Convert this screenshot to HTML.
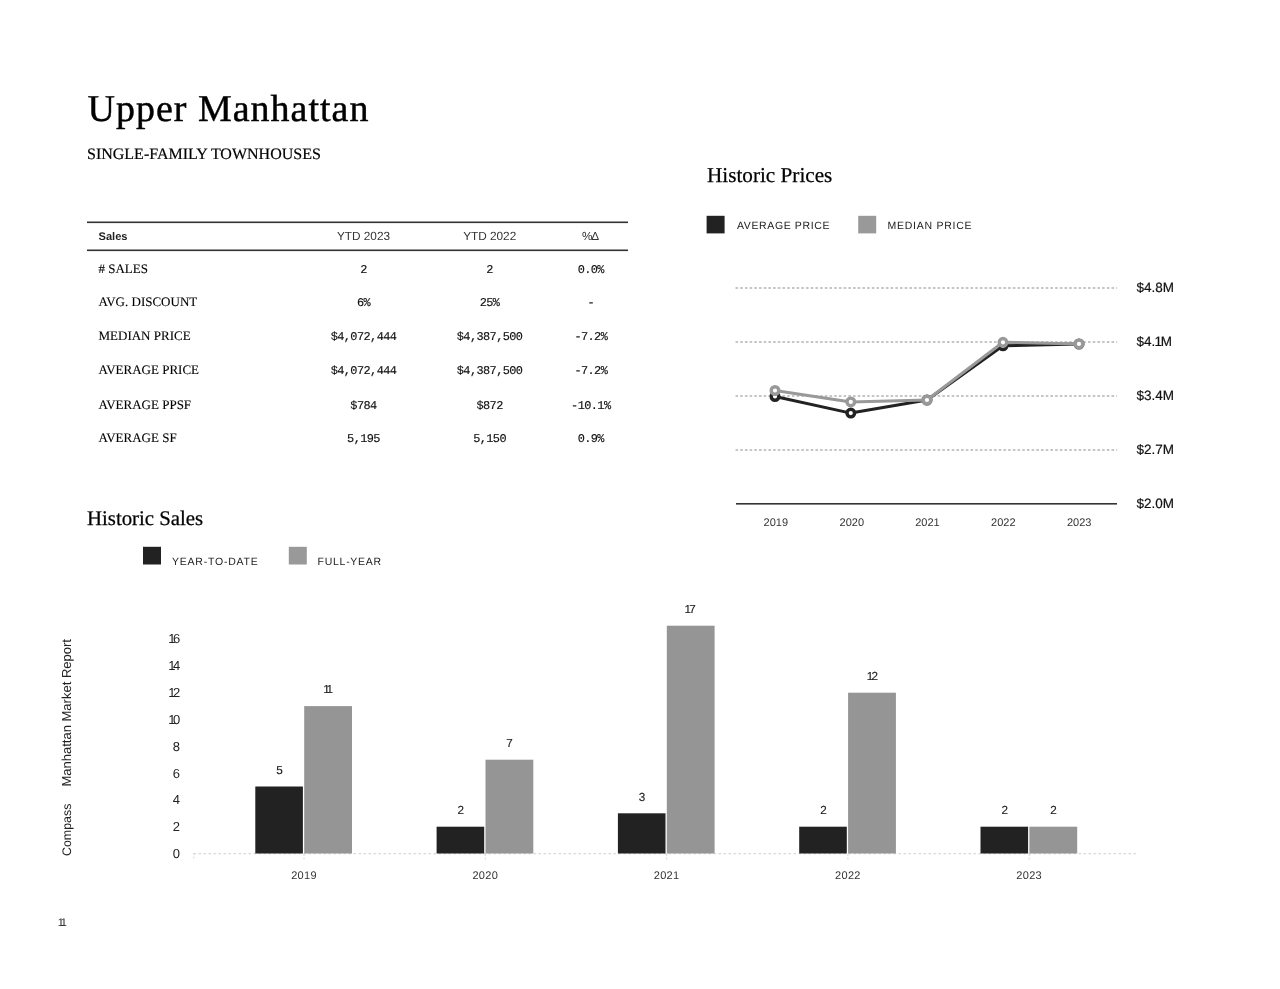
<!DOCTYPE html>
<html>
<head>
<meta charset="utf-8">
<style>
html,body{margin:0;padding:0;background:#fff;}
body{width:1280px;height:989px;position:relative;overflow:hidden;}
svg{position:absolute;left:0;top:0;will-change:transform;text-rendering:geometricPrecision;}
.serif{font-family:"Liberation Serif",serif;}
.sans{font-family:"Liberation Sans",sans-serif;}
.mono{font-family:"Liberation Mono",monospace;}
</style>
</head>
<body>
<svg width="1280" height="989" viewBox="0 0 1280 989">
  <!-- Title -->
  <text class="serif" x="87.5" y="121" font-size="38" letter-spacing="1.0" fill="#000" stroke="#000" stroke-width="0.45">Upper Manhattan</text>
  <text class="serif" x="87" y="158.5" font-size="16" fill="#000" stroke="#000" stroke-width="0.2">SINGLE-FAMILY TOWNHOUSES</text>

  <!-- Table -->
  <g>
    <rect x="87" y="221.5" width="541" height="1.6" fill="#333"/>
    <rect x="87" y="249.5" width="541" height="1.6" fill="#333"/>
    <text class="sans" x="98.5" y="239.7" font-size="11.1" font-weight="bold" fill="#222">Sales</text>
    <g class="sans" font-size="11.8" fill="#333" text-anchor="middle">
      <text x="363.5" y="239.8">YTD 2023</text>
      <text x="489.7" y="239.8">YTD 2022</text>
      <text x="590" y="239.8" letter-spacing="-1.3">%Δ</text>
    </g>
    <g class="serif" font-size="13" fill="#000" stroke="#000" stroke-width="0.12">
      <text x="98.5" y="272.8"># SALES</text>
      <text x="98.5" y="306.4">AVG. DISCOUNT</text>
      <text x="98.5" y="340.3">MEDIAN PRICE</text>
      <text x="98.5" y="374.4">AVERAGE PRICE</text>
      <text x="98.5" y="408.5">AVERAGE PPSF</text>
      <text x="98.5" y="441.8">AVERAGE SF</text>
    </g>
    <g class="mono" font-size="11.9" letter-spacing="-0.57" fill="#111" stroke="#111" stroke-width="0.15" text-anchor="middle">
      <text x="363.5" y="272.8">2</text><text x="489.6" y="272.8">2</text><text x="590.8" y="272.8">0.0%</text>
      <text x="363.5" y="306.4">6%</text><text x="489.6" y="306.4">25%</text><text x="590.8" y="306.4">-</text>
      <text x="363.5" y="340.3">$4,072,444</text><text x="489.6" y="340.3">$4,387,500</text><text x="590.8" y="340.3">-7.2%</text>
      <text x="363.5" y="374.4">$4,072,444</text><text x="489.6" y="374.4">$4,387,500</text><text x="590.8" y="374.4">-7.2%</text>
      <text x="363.5" y="408.5">$784</text><text x="489.6" y="408.5">$872</text><text x="590.8" y="408.5">-10.1%</text>
      <text x="363.5" y="441.8">5,195</text><text x="489.6" y="441.8">5,150</text><text x="590.8" y="441.8">0.9%</text>
    </g>
  </g>

  <!-- Historic Prices -->
  <text class="serif" x="707" y="182.3" font-size="21.2" fill="#000" stroke="#000" stroke-width="0.25">Historic Prices</text>
  <rect x="706.6" y="215.8" width="18" height="17.6" fill="#222"/>
  <text class="sans" x="737" y="229.1" font-size="10.5" letter-spacing="0.62" fill="#222">AVERAGE PRICE</text>
  <rect x="858.2" y="215.8" width="18" height="17.6" fill="#999"/>
  <text class="sans" x="887.5" y="229.1" font-size="10.5" letter-spacing="0.74" fill="#222">MEDIAN PRICE</text>

  <g stroke="#b4b4b4" stroke-width="1.6" stroke-dasharray="2.6 2.1">
    <line x1="735.5" y1="288" x2="1117" y2="288"/>
    <line x1="735.5" y1="342" x2="1117" y2="342"/>
    <line x1="735.5" y1="396" x2="1117" y2="396"/>
    <line x1="735.5" y1="450" x2="1117" y2="450"/>
  </g>
  <rect x="736" y="503" width="381" height="1.6" fill="#333"/>
  <g class="sans" font-size="13.5" fill="#111" stroke="#111" stroke-width="0.2">
    <text x="1136.5" y="292.3">$4.8M</text>
    <text x="1136.5" y="346.3">$4.<tspan dx="-0.8">1</tspan><tspan dx="-1.3">M</tspan></text>
    <text x="1136.5" y="400.3">$3.4M</text>
    <text x="1136.5" y="454.3">$2.7M</text>
    <text x="1136.5" y="508.3">$2.0M</text>
  </g>
  <g class="sans" font-size="11" fill="#333" text-anchor="middle">
    <text x="775.8" y="526">2019</text>
    <text x="851.8" y="526">2020</text>
    <text x="927.5" y="526">2021</text>
    <text x="1003.3" y="526">2022</text>
    <text x="1079.2" y="526">2023</text>
  </g>
  <polyline points="775,396.5 850.8,413.1 927,400 1003,345.8 1079,344" fill="none" stroke="#222" stroke-width="3" stroke-linejoin="round"/>
  <g fill="#fff" stroke="#222" stroke-width="3.4">
    <circle cx="775" cy="396.5" r="3.8"/>
    <circle cx="850.8" cy="413.1" r="3.8"/>
    <circle cx="927" cy="400" r="3.8"/>
    <circle cx="1003" cy="345.8" r="3.8"/>
    <circle cx="1079" cy="344" r="3.8"/>
  </g>
  <polyline points="775,390.5 850.8,401.9 927,400 1003,342.3 1079,343.9" fill="none" stroke="#999" stroke-width="3" stroke-linejoin="round"/>
  <g fill="#fff" stroke="#999" stroke-width="3.4">
    <circle cx="775" cy="390.5" r="3.8"/>
    <circle cx="850.8" cy="401.9" r="3.8"/>
    <circle cx="927" cy="400" r="3.8"/>
    <circle cx="1003" cy="342.3" r="3.8"/>
    <circle cx="1079" cy="343.9" r="3.8"/>
  </g>

  <!-- Historic Sales -->
  <text class="serif" x="87" y="525" font-size="20.8" fill="#000" stroke="#000" stroke-width="0.25">Historic Sales</text>
  <rect x="143" y="546.8" width="18" height="17.7" fill="#222"/>
  <text class="sans" x="172" y="565" font-size="10.5" letter-spacing="0.78" fill="#222">YEAR-TO-DATE</text>
  <rect x="288.8" y="546.8" width="18" height="17.7" fill="#999"/>
  <text class="sans" x="317.6" y="565" font-size="10.5" letter-spacing="0.72" fill="#222">FULL-YEAR</text>

  <!-- bar chart -->
  <line x1="193.5" y1="853.6" x2="1138" y2="853.6" stroke="#d8d8d8" stroke-width="1.3" stroke-dasharray="2.5 2.5"/>
  <line x1="193.8" y1="853" x2="193.8" y2="860" stroke="#ddd" stroke-width="1.2" stroke-dasharray="2 1.5"/>
  <g stroke="#ddd" stroke-width="1.2" stroke-dasharray="2 1.5"><line x1="304.0" y1="854" x2="304.0" y2="860"/><line x1="485.3" y1="854" x2="485.3" y2="860"/><line x1="666.6" y1="854" x2="666.6" y2="860"/><line x1="847.9" y1="854" x2="847.9" y2="860"/><line x1="1029.2" y1="854" x2="1029.2" y2="860"/></g>
  <g>
    <rect x="255.3" y="786.5" width="47.6" height="67.0" fill="#222"/>
    <rect x="304.2" y="706.1" width="47.8" height="147.4" fill="#959595"/>
    <rect x="436.6" y="826.7" width="47.6" height="26.8" fill="#222"/>
    <rect x="485.5" y="759.7" width="47.8" height="93.8" fill="#959595"/>
    <rect x="617.9" y="813.3" width="47.6" height="40.2" fill="#222"/>
    <rect x="666.8" y="625.7" width="47.8" height="227.8" fill="#959595"/>
    <rect x="799.2" y="826.7" width="47.6" height="26.8" fill="#222"/>
    <rect x="848.1" y="692.7" width="47.8" height="160.8" fill="#959595"/>
    <rect x="980.5" y="826.7" width="47.6" height="26.8" fill="#222"/>
    <rect x="1029.4" y="826.7" width="47.8" height="26.8" fill="#959595"/></g>
  <g class="sans" font-size="11.7" fill="#222" stroke="#222" stroke-width="0.15" text-anchor="middle">
    <text x="279.5" y="773.7">5</text>
    <text x="326.9" y="693.3" letter-spacing="-2.4">11</text>
    <text x="460.8" y="813.9">2</text>
    <text x="509.5" y="746.9">7</text>
    <text x="642.1" y="800.5">3</text>
    <text x="689.3" y="612.9" letter-spacing="-1.6">17</text>
    <text x="823.4" y="813.9">2</text>
    <text x="871.6" y="679.9" letter-spacing="-1.6">12</text>
    <text x="1004.7" y="813.9">2</text>
    <text x="1053.4" y="813.9">2</text></g>
  <g class="sans" font-size="11" letter-spacing="0.3" fill="#333" text-anchor="middle">
    <text x="304.0" y="878.9">2019</text>
    <text x="485.3" y="878.9">2020</text>
    <text x="666.6" y="878.9">2021</text>
    <text x="847.9" y="878.9">2022</text>
    <text x="1029.2" y="878.9">2023</text></g>
  <g class="sans" font-size="13" fill="#222" text-anchor="end">
    <text x="180" y="858.1">0</text>
    <text x="180" y="831.2">2</text>
    <text x="180" y="804.4">4</text>
    <text x="180" y="777.5">6</text>
    <text x="180" y="750.5">8</text>
    <text x="177.6" y="723.6" letter-spacing="-2.6">10</text>
    <text x="177.6" y="696.8" letter-spacing="-2.6">12</text>
    <text x="177.6" y="669.9" letter-spacing="-2.6">14</text>
    <text x="177.6" y="643.0" letter-spacing="-2.6">16</text></g>
  <text class="sans" transform="translate(71,856) rotate(-90)" font-size="12.4" fill="#222">Compass</text>
  <text class="sans" transform="translate(71,786.5) rotate(-90)" font-size="13" fill="#222">Manhattan Market Report</text>
  <text class="sans" x="57.8" y="926.4" font-size="11" fill="#222" letter-spacing="-2.4">11</text>
</svg>
</body>
</html>
